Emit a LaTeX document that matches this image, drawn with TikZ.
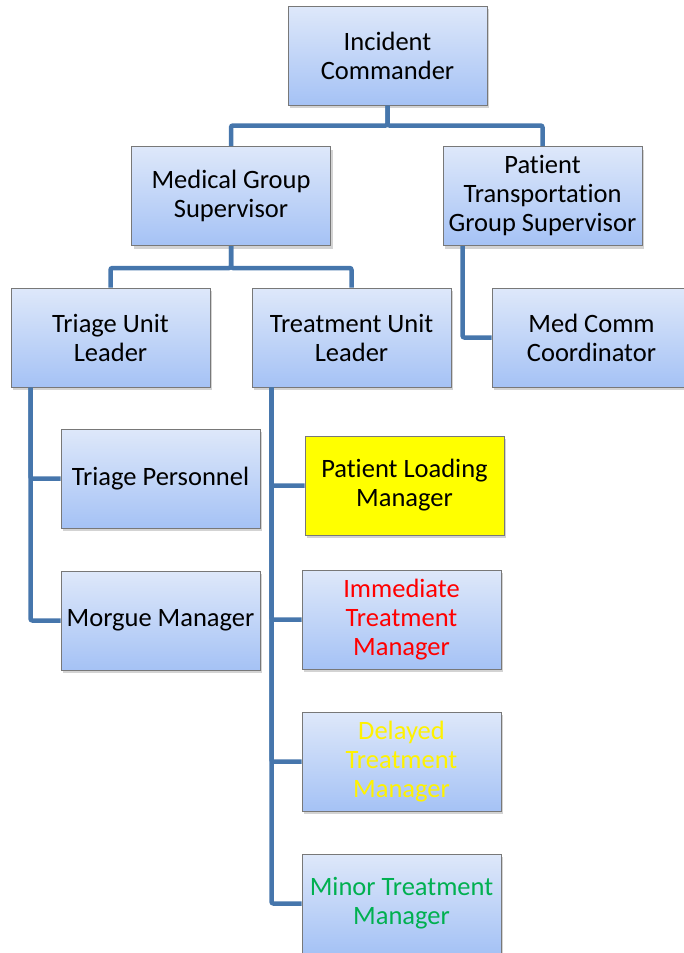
\documentclass[tikz,border=0pt]{standalone}
\usepackage{fontspec}
\setmainfont{Carlito}[Ligatures=NoCommon]
\usepackage{tikz}
\usetikzlibrary{positioning,shapes,calc,shadows}
\usepackage{xcolor}
\definecolor{boxtop}{RGB}{222,232,250}
\definecolor{boxbottom}{RGB}{165,194,245}
\definecolor{boxborder}{RGB}{120,120,120}
\definecolor{orgblue}{RGB}{70,118,172}
\definecolor{mingreen}{RGB}{0,176,80}

\tikzset{
    rolebox/.style={draw=boxborder, line width=1pt, rectangle, minimum width=199pt, minimum height=99pt,
        top color=boxtop, bottom color=boxbottom, align=center, font=\fontsize{26.5}{29}\selectfont,
        drop shadow={opacity=0.35, shadow xshift=2pt, shadow yshift=-3pt}},
    orgline/.style={draw=orgblue, line width=4.5pt, rounded corners=2pt}
}

\begin{document}
\begin{tikzpicture}[x=1pt,y=-1pt]
    \useasboundingbox (0,0) rectangle (683,953);

    % Command level
    \node[rolebox] (ic) at (387.5,55.5) {Incident\\Commander};

    % Group supervisors
    \node[rolebox] (mgs) at (231,196) {Medical Group\\Supervisor};
    \node[rolebox] (pts) at (542.5,196) {Patient\\Transportation\\Group Supervisor};

    % Unit leaders
    \node[rolebox] (tul) at (110.5,337.5) {Triage Unit\\Leader};
    \node[rolebox] (tnl) at (351.5,337.5) {Treatment Unit\\Leader};
    \node[rolebox] (mcc) at (591.5,337.5) {Med Comm\\Coordinator};

    % Triage unit
    \node[rolebox] (tp) at (160.5,478.5) {Triage Personnel};
    \node[rolebox] (mm) at (160.5,620.5) {Morgue Manager};

    % Treatment unit
    \node[rolebox, top color=yellow, bottom color=yellow] (plm) at (404.5,485.5) {Patient Loading\\Manager};
    \node[rolebox, text=red] (itm) at (401.5,619.5) {Immediate\\Treatment\\Manager};
    \node[rolebox, text=yellow] (dtm) at (401.5,761.5) {Delayed\\Treatment\\Manager};
    \node[rolebox, text=mingreen] (mtm) at (401.5,903.5) {Minor Treatment\\Manager};

    % Connectors
    \draw[orgline] (ic.south) -- ++(0,20) -| (mgs.north);
    \draw[orgline] (ic.south) -- ++(0,20) -| (pts.north);
    \draw[orgline] (mgs.south) -- ++(0,22) -| (tul.north);
    \draw[orgline] (mgs.south) -- ++(0,22) -| (tnl.north);
    \draw[orgline] ($(pts.south west)+(20,0)$) |- (mcc.west);
    \draw[orgline] ($(tul.south west)+(20,0)$) |- (tp.west);
    \draw[orgline] ($(tul.south west)+(20,0)$) |- (mm.west);
    \draw[orgline] ($(tnl.south west)+(20,0)$) |- (plm.west);
    \draw[orgline] ($(tnl.south west)+(20,0)$) |- (itm.west);
    \draw[orgline] ($(tnl.south west)+(20,0)$) |- (dtm.west);
    \draw[orgline] ($(tnl.south west)+(20,0)$) |- (mtm.west);
\end{tikzpicture}
\end{document}
